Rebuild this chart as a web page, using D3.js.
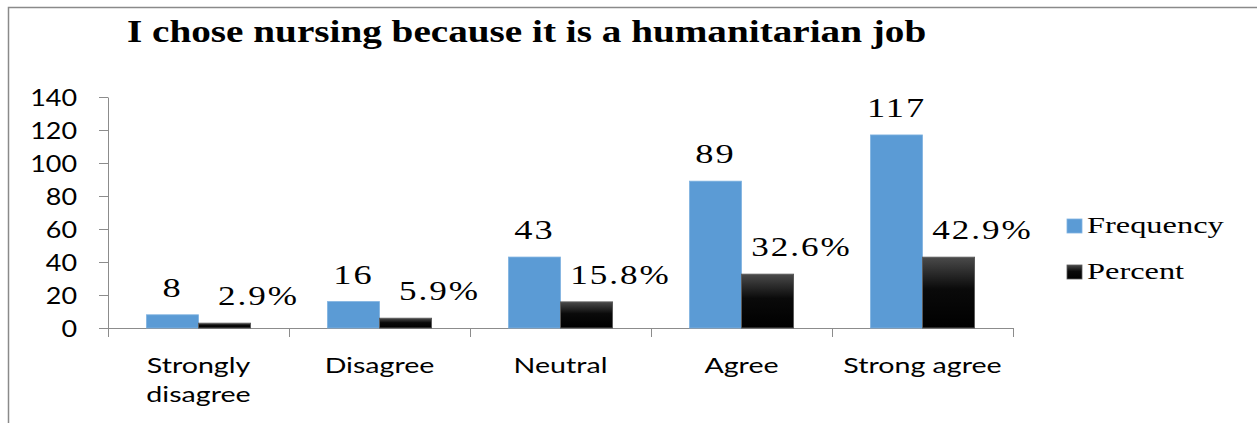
<!DOCTYPE html>
<html>
<head>
<meta charset="utf-8">
<script src="https://cdn.jsdelivr.net/npm/d3@7"></script>
<style>
  html, body { margin: 0; padding: 0; background: #fff; }
  svg { display: block; }
</style>
</head>
<body>
<svg id="chart" width="1257" height="423"></svg>
<script>
// Survey responses: "I chose nursing because it is a humanitarian job"
const categories = ["Strongly disagree", "Disagree", "Neutral", "Agree", "Strong agree"];
const categoryLines = [["Strongly", "disagree"], ["Disagree"], ["Neutral"], ["Agree"], ["Strong agree"]];
const seriesNames = ["Frequency", "Percent"];
const frequency = [8, 16, 43, 89, 117];
const percent = [2.9, 5.9, 15.8, 32.6, 42.9];
const percentLabels = ["2.9%", "5.9%", "15.8%", "32.6%", "42.9%"];
const yTicks = [0, 20, 40, 60, 80, 100, 120, 140];

const svg = d3.select("#chart");
const W = 1257, H = 423;

const axisColor = "#8c8c8c";
const blue = "#5b9bd5";
const serif = "'Liberation Serif', 'Times New Roman', serif";
const sans = "Lato, 'Open Sans', sans-serif";

// horizontally stretched text helper
function stext(parent, str, x, y, opts) {
  const o = Object.assign({anchor: "start", sx: 1.3, size: 20, family: serif, weight: "normal"}, opts);
  return parent.append("text")
    .attr("transform", `translate(${x},${y}) scale(${o.sx},1)`)
    .attr("text-anchor", o.anchor)
    .attr("font-family", o.family)
    .attr("font-size", o.size)
    .attr("font-weight", o.weight)
    .attr("fill", "#000")
    .text(str);
}

// outer frame (top and left edges)
svg.append("path")
  .attr("d", `M8.5,${H} L8.5,7.5 L${W},7.5`)
  .attr("fill", "none")
  .attr("stroke", "#8a8a8a")
  .attr("stroke-width", 1.5);

// title
stext(svg, "I chose nursing because it is a humanitarian job", 127, 42,
  {size: 31, weight: "bold", sx: 1.265});

// scales
const x = d3.scaleBand().domain(categories).range([108, 1013]).paddingInner(0).paddingOuter(0);
const xs = d3.scaleBand().domain(seriesNames).range([0, x.bandwidth()]).paddingInner(0).paddingOuter(0.74);
const y = d3.scaleLinear().domain([0, 140]).range([328, 97]);

// gradient for Percent bars
const defs = svg.append("defs");
const grad = defs.append("linearGradient").attr("id", "blackGrad")
  .attr("x1", 0).attr("y1", 0).attr("x2", 0).attr("y2", 1);
grad.append("stop").attr("offset", "0%").attr("stop-color", "#4a4a4a");
grad.append("stop").attr("offset", "45%").attr("stop-color", "#0a0a0a");
grad.append("stop").attr("offset", "100%").attr("stop-color", "#000");

// y axis
const yAxis = svg.append("g").attr("transform", "translate(108,0)")
  .call(d3.axisLeft(y).tickValues(yTicks).tickSize(9).tickSizeOuter(0).tickFormat(d3.format("d")));
yAxis.select(".domain").attr("stroke", axisColor);
yAxis.selectAll(".tick line").attr("stroke", axisColor);
yAxis.selectAll(".tick text").remove();
yAxis.selectAll(".tick").each(function(d) {
  stext(d3.select(this), String(d), -31, 8, {anchor: "end", size: 23, family: sans, sx: 1.17});
});

// x axis
const xAxis = svg.append("g").attr("transform", "translate(0,328)")
  .call(d3.axisBottom(x).tickSize(0).tickSizeOuter(0).tickFormat(""));
xAxis.select(".domain").attr("stroke", axisColor);
// category dividers
const edges = categories.map(c => x(c)).concat([x.range()[1]]);
svg.append("g").selectAll("line").data(edges).join("line")
  .attr("x1", d => d + 0.5).attr("x2", d => d + 0.5)
  .attr("y1", 328).attr("y2", 337)
  .attr("stroke", axisColor);

// category labels
categories.forEach((c, i) => {
  const cx = x(c) + x.bandwidth() / 2;
  categoryLines[i].forEach((line, j) => {
    stext(svg, line, cx, 373 + j * 29, {anchor: "middle", size: 22, family: sans, sx: 1.3});
  });
});

// bars
const g = svg.append("g");
g.selectAll("rect.freq").data(frequency).join("rect")
  .attr("class", "freq")
  .attr("x", (d, i) => x(categories[i]) + xs("Frequency"))
  .attr("y", d => y(d))
  .attr("width", xs.bandwidth())
  .attr("height", d => y(0) - y(d))
  .attr("fill", blue)
  .attr("stroke", "#7fb2e0")
  .attr("stroke-width", 0.8);

g.selectAll("rect.pct").data(percent).join("rect")
  .attr("class", "pct")
  .attr("x", (d, i) => x(categories[i]) + xs("Percent"))
  .attr("y", d => y(d))
  .attr("width", xs.bandwidth())
  .attr("height", d => y(0) - y(d))
  .attr("fill", "url(#blackGrad)")
  .attr("stroke", "#5a5a5a")
  .attr("stroke-width", 1);

// value labels
frequency.forEach((v, i) => {
  const cx = x(categories[i]) + xs("Frequency") + xs.bandwidth() / 2;
  stext(svg, String(v), cx, y(v) - 18, {anchor: "middle", size: 28, sx: 1.3})
    .attr("letter-spacing", 1.5);
});
percent.forEach((v, i) => {
  const cx = x(categories[i]) + xs("Percent") + xs.bandwidth() / 2 + 34;
  stext(svg, percentLabels[i], cx, y(v) - 18, {anchor: "middle", size: 27, sx: 1.3})
    .attr("letter-spacing", 1.5);
});

// legend
const legendItems = [
  {name: "Frequency", fill: blue, stroke: "#7fb2e0", yy: 219},
  {name: "Percent", fill: "url(#blackGrad)", stroke: "#5a5a5a", yy: 265}
];
legendItems.forEach(it => {
  svg.append("rect").attr("x", 1067).attr("y", it.yy).attr("width", 15).attr("height", 14)
    .attr("fill", it.fill).attr("stroke", it.stroke).attr("stroke-width", 0.8);
  stext(svg, it.name, 1087, it.yy + 14, {size: 24, sx: 1.35});
});
</script>
</body>
</html>
